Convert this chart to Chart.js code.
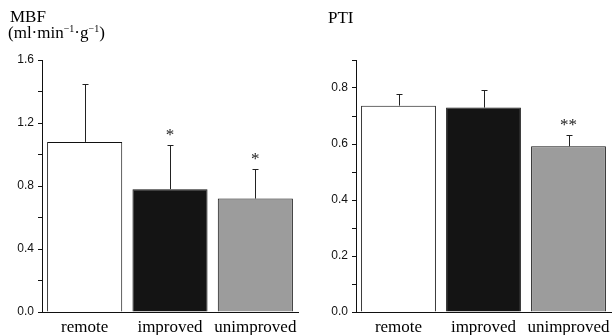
<!DOCTYPE html>
<html>
<head>
<meta charset="utf-8">
<script src="https://cdn.jsdelivr.net/npm/chart.js@4/dist/chart.umd.min.js"></script>
<style>
  html, body { margin:0; padding:0; background:#fff; }
  #wrap { position:relative; width:615px; height:335px; overflow:hidden; }
  .cv { position:absolute; top:0; }
  .ttl { position:absolute; font-family:"Liberation Serif", serif; font-size:17px; color:#000; line-height:1; white-space:nowrap; }
  .ttl sup { font-size:10px; vertical-align:6px; line-height:0; }
</style>
</head>
<body>
<div id="wrap">
  <div class="cv" style="left:0;width:310px;height:335px;"><canvas id="c1"></canvas></div>
  <div class="cv" style="left:310px;width:305px;height:335px;"><canvas id="c2"></canvas></div>
  <div class="ttl" style="left:10px;top:8px;">MBF</div>
  <div class="ttl" style="left:8px;top:24px;">(ml·min<sup>−1</sup>·g<sup>−1</sup>)</div>
  <div class="ttl" style="left:328px;top:9px;">PTI</div>
</div>
<script>
const categories = ['remote', 'improved', 'unimproved'];
const mbfMean = [1.08, 0.78, 0.72];
const mbfSD   = [0.37, 0.28, 0.19];
const mbfSig  = ['', '*', '*'];
const mbfTicks = [0.0, 0.4, 0.8, 1.2, 1.6];
const ptiMean = [0.737, 0.730, 0.592];
const ptiSD   = [0.043, 0.062, 0.039];
const ptiSig  = ['', '', '**'];
const ptiTicks = [0.0, 0.2, 0.4, 0.6, 0.8];

const barColors = ['#ffffff', '#141414', '#9c9c9c'];

const errPlugin = {
  id: 'errbars',
  afterDatasetsDraw(chart, args, opts) {
    const ctx = chart.ctx;
    const meta = chart.getDatasetMeta(0);
    const y = chart.scales.y;
    ctx.save();
    meta.data.forEach((bar, i) => {
      const top = y.getPixelForValue(opts.mean[i]);
      const et = y.getPixelForValue(opts.mean[i] + opts.sd[i]);
      const x = Math.round(bar.x) + 0.5;
      ctx.strokeStyle = '#222';
      ctx.lineWidth = 1;
      ctx.beginPath();
      ctx.moveTo(x, top);
      ctx.lineTo(x, Math.round(et) + 0.5);
      ctx.moveTo(x - 3, Math.round(et) + 0.5);
      ctx.lineTo(x + 3, Math.round(et) + 0.5);
      ctx.stroke();
      if (opts.sig[i]) {
        ctx.fillStyle = '#222';
        ctx.font = '17px "Liberation Serif", serif';
        ctx.textAlign = 'center';
        ctx.textBaseline = 'alphabetic';
        ctx.fillText(opts.sig[i], bar.x, et - 14 + 9);
      }
    });
    ctx.restore();
  }
};

function makeChart(id, mean, sd, sig, labelTicks, max, step, yWidth, padRight, tickFont) {
  return new Chart(document.getElementById(id), {
    type: 'bar',
    data: {
      labels: categories,
      datasets: [{
        data: mean,
        backgroundColor: barColors,
        borderColor: '#111',
        borderWidth: 1,
        barPercentage: 0.88,
        categoryPercentage: 1.0
      }]
    },
    options: {
      responsive: true,
      maintainAspectRatio: false,
      animation: false,
      layout: { padding: { top: 60, right: padRight, bottom: 0, left: 0 } },
      plugins: {
        legend: { display: false },
        tooltip: { enabled: false },
        errbars: { mean: mean, sd: sd, sig: sig }
      },
      scales: {
        x: {
          grid: { display: false },
          border: { display: true, color: '#111', width: 1 },
          ticks: { color: '#000', padding: -3, maxRotation: 0, minRotation: 0, autoSkip: false,
                   font: { family: '"Liberation Serif", serif', size: 17 } },
          afterFit(s) { s.height = 23; }
        },
        y: {
          min: 0, max: max,
          grid: { drawOnChartArea: false, drawTicks: true, tickLength: 4, color: '#111' },
          border: { display: true, color: '#111', width: 1 },
          ticks: {
            stepSize: step,
            color: '#111',
            padding: 4,
            font: tickFont,
            callback(v) {
              return labelTicks.some(t => Math.abs(t - v) < 1e-6) ? Number(v).toFixed(1) : '';
            }
          },
          afterFit(s) { s.width = yWidth; }
        }
      }
    },
    plugins: [errPlugin]
  });
}

makeChart('c1', mbfMean, mbfSD, mbfSig, mbfTicks, 1.6, 0.2, 42, 12, { family: '"Liberation Sans", sans-serif', size: 12 });
makeChart('c2', ptiMean, ptiSD, ptiSig, ptiTicks, 0.9, 0.1, 46, 4, { family: '"Liberation Sans", sans-serif', size: 12 });
</script>
</body>
</html>
